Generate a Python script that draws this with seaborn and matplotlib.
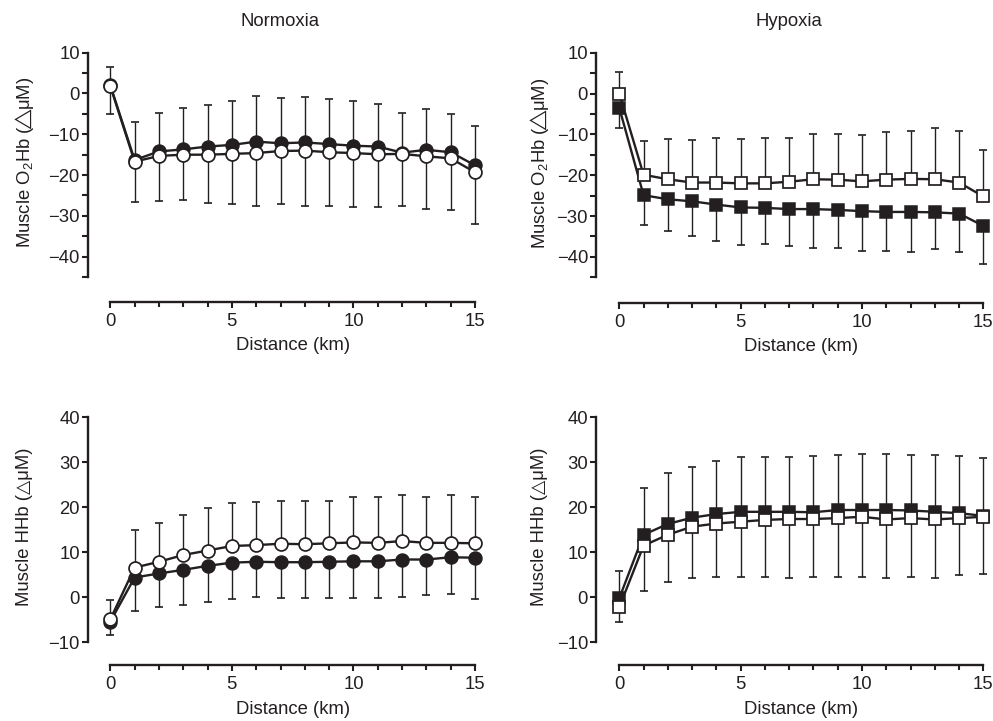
import numpy as np
import pandas as pd
import matplotlib
matplotlib.use("Agg")
import matplotlib.pyplot as plt
import seaborn as sns

# ---------------- data ----------------
distance = list(range(16))

# Normoxia, muscle O2Hb
n_o2_filled_mean = [2.0, -16.3, -14.2, -13.7, -13.0, -12.6, -11.8, -12.2, -12.0, -12.4, -12.8, -13.0, -14.5, -13.8, -14.4, -17.6]
n_o2_filled_sd = [4.5, 9.4, 9.3, 10.2, 10.2, 10.8, 11.2, 11.2, 11.2, 11.0, 11.0, 10.5, 9.7, 10.0, 9.4, 9.6]
n_o2_open_mean = [1.8, -16.7, -15.3, -15.0, -15.0, -14.8, -14.6, -14.1, -14.0, -14.4, -14.6, -14.9, -14.8, -15.4, -15.9, -19.3]
n_o2_open_sd = [6.8, 10.0, 11.0, 11.2, 11.8, 12.4, 12.9, 13.1, 13.5, 13.1, 13.2, 12.9, 12.8, 12.8, 12.6, 12.6]

# Hypoxia, muscle O2Hb
h_o2_filled_mean = [-3.5, -24.9, -25.9, -26.4, -27.2, -27.9, -28.0, -28.3, -28.3, -28.5, -28.8, -29.0, -29.0, -29.1, -29.4, -32.4]
h_o2_filled_sd = [4.9, 7.2, 7.7, 8.6, 8.8, 9.2, 8.9, 9.1, 9.5, 9.3, 9.7, 9.6, 9.9, 8.9, 9.3, 9.3]
h_o2_open_mean = [0.0, -19.9, -21.0, -21.8, -21.8, -22.0, -22.0, -21.6, -21.0, -21.1, -21.5, -21.1, -20.9, -21.0, -21.8, -25.2]
h_o2_open_sd = [5.2, 8.2, 9.9, 10.4, 11.0, 10.8, 11.2, 10.7, 11.2, 11.1, 11.3, 11.7, 11.7, 12.6, 12.5, 11.4]

# Normoxia, muscle HHb
n_hh_filled_mean = [-5.4, 4.4, 5.3, 6.1, 7.0, 7.7, 7.9, 7.8, 7.8, 7.9, 8.0, 8.0, 8.4, 8.4, 8.9, 8.8]
n_hh_filled_sd = [3.0, 7.4, 7.4, 7.8, 8.0, 8.0, 7.75, 8.0, 7.95, 8.0, 8.1, 8.1, 8.25, 7.9, 8.2, 9.1]
n_hh_open_mean = [-4.9, 6.6, 7.9, 9.4, 10.4, 11.4, 11.6, 11.9, 11.8, 12.0, 12.2, 12.1, 12.5, 12.1, 12.1, 12.0]
n_hh_open_sd = [4.2, 8.3, 8.6, 8.8, 9.4, 9.5, 9.5, 9.4, 9.5, 9.5, 10.0, 10.1, 10.3, 10.3, 10.6, 10.3]

# Hypoxia, muscle HHb
h_hh_filled_mean = [-0.2, 13.9, 16.3, 17.7, 18.5, 19.0, 19.0, 19.0, 18.9, 19.4, 19.4, 19.4, 19.3, 19.0, 18.7, 18.1]
h_hh_filled_sd = [6.1, 10.5, 11.3, 11.2, 11.9, 12.2, 12.1, 12.2, 12.6, 12.3, 12.5, 12.5, 12.4, 12.6, 12.7, 12.9]
h_hh_open_mean = [-2.2, 11.5, 13.9, 15.7, 16.4, 16.8, 17.2, 17.4, 17.4, 17.6, 17.9, 17.3, 17.6, 17.3, 17.6, 17.9]
h_hh_open_sd = [3.3, 10.0, 10.6, 11.3, 11.8, 12.2, 12.6, 13.0, 12.8, 13.0, 13.3, 13.0, 13.1, 12.9, 12.6, 12.7]

titles = ["Normoxia", "Hypoxia"]
ylabel_o2 = "Muscle O$_2$Hb ($\\!\\!\\triangle\\!\\!$\u03bcM)"
ylabel_hh = "Muscle HHb (\u25b3\u03bcM)"
xlabel = "Distance (km)"

# ---------------- style ----------------
sns.set_theme(style="ticks")
INK = "#231f20"
plt.rcParams["font.family"] = ["Liberation Sans", "DejaVu Sans"]
plt.rcParams["mathtext.fontset"] = "custom"
plt.rcParams["mathtext.rm"] = "Liberation Sans"
plt.rcParams["mathtext.it"] = "Liberation Sans:italic"
plt.rcParams["mathtext.fallback"] = "stix"
plt.rcParams["text.color"] = INK
plt.rcParams["axes.labelcolor"] = INK
plt.rcParams["xtick.color"] = INK
plt.rcParams["ytick.color"] = INK
FS = 13.3

W, H = 993, 721
fig = plt.figure(figsize=(W / 100, H / 100), dpi=100)
fig.patch.set_facecolor("white")


def make_axes(left_px, right_px, top_px, bottom_px):
    return fig.add_axes([left_px / W, 1 - bottom_px / H,
                         (right_px - left_px) / W, (bottom_px - top_px) / H])


panels = [
    dict(px=(87.7, 482.3, 48.6, 302.0), xlim=(-0.93, 15.3), ylim=(-51.1, 11),
         ybounds=(-45, 10), ymajor=np.arange(-40, 11, 10), yminor=np.arange(-45, 10, 10),
         filled=(n_o2_filled_mean, n_o2_filled_sd), open=(n_o2_open_mean, n_o2_open_sd),
         filled_up=True, marker="o", ms=9.3, ylabel=ylabel_o2, title=titles[0],
         ylc=(-0.160, 0.552), xlc=-0.170, tx=0.487),
    dict(px=(596.0, 990.6, 48.6, 303.0), xlim=(-0.96, 15.3), ylim=(-51.3, 11),
         ybounds=(-45, 10), ymajor=np.arange(-40, 11, 10), yminor=np.arange(-45, 10, 10),
         filled=(h_o2_filled_mean, h_o2_filled_sd), open=(h_o2_open_mean, h_o2_open_sd),
         filled_up=False, marker="s", ms=8.5, ylabel=ylabel_o2, title=titles[1],
         ylc=(-0.143, 0.549), xlc=-0.172, tx=0.489),
    dict(px=(87.7, 482.3, 412.8, 665.0), xlim=(-0.93, 15.3), ylim=(-15.04, 41),
         ybounds=(-10, 40), ymajor=np.arange(-10, 41, 10), yminor=[],
         filled=(n_hh_filled_mean, n_hh_filled_sd), open=(n_hh_open_mean, n_hh_open_sd),
         filled_up=False, marker="o", ms=9.3, ylabel=ylabel_hh, title=None,
         ylc=(-0.160, 0.548), xlc=-0.178, tx=None),
    dict(px=(596.0, 990.6, 412.8, 665.0), xlim=(-0.96, 15.3), ylim=(-15.04, 41),
         ybounds=(-10, 40), ymajor=np.arange(-10, 41, 10), yminor=[],
         filled=(h_hh_filled_mean, h_hh_filled_sd), open=(h_hh_open_mean, h_hh_open_sd),
         filled_up=True, marker="s", ms=8.5, ylabel=ylabel_hh, title=None,
         ylc=(-0.143, 0.548), xlc=-0.178, tx=None),
]

x = np.array(distance)
for p in panels:
    ax = make_axes(*p["px"])
    ax.set_facecolor("white")
    fm, fsd = np.array(p["filled"][0]), np.array(p["filled"][1])
    om, osd = np.array(p["open"][0]), np.array(p["open"][1])
    z = np.zeros_like(fsd)
    if p["filled_up"]:
        f_err, o_err = [z, fsd], [osd, z]
    else:
        f_err, o_err = [fsd, z], [z, osd]
    eb_kw = dict(fmt="none", ecolor=INK, elinewidth=1.0, capsize=2.6, capthick=1.2,
                 zorder=1, clip_on=False)
    ax.errorbar(x, fm, yerr=f_err, **eb_kw)
    ax.errorbar(x, om, yerr=o_err, **eb_kw)

    df_f = pd.DataFrame({"distance": x, "value": fm})
    df_o = pd.DataFrame({"distance": x, "value": om})
    sns.lineplot(data=df_f, x="distance", y="value", ax=ax, color=INK,
                 linewidth=1.7, marker=p["marker"], markersize=p["ms"],
                 markerfacecolor=INK, markeredgecolor=INK, markeredgewidth=1.1,
                 zorder=3, clip_on=False)
    sns.lineplot(data=df_o, x="distance", y="value", ax=ax, color=INK,
                 linewidth=1.7, marker=p["marker"], markersize=p["ms"],
                 markerfacecolor="white", markeredgecolor=INK, markeredgewidth=1.25,
                 zorder=4, clip_on=False)

    ax.set_xlim(*p["xlim"])
    ax.set_ylim(*p["ylim"])
    sns.despine(ax=ax)
    for s in ("left", "bottom"):
        ax.spines[s].set_linewidth(1.7)
        ax.spines[s].set_color(INK)
    ax.spines["left"].set_bounds(*p["ybounds"])
    ax.spines["bottom"].set_bounds(0, 15)

    ax.set_xticks([0, 5, 10, 15])
    ax.set_xticks(np.arange(0, 16, 1), minor=True)
    ax.set_yticks(p["ymajor"])
    ax.set_yticks(p["yminor"], minor=True)
    ax.tick_params(axis="both", which="both", width=1.5, length=4.2, labelsize=FS)
    ax.tick_params(axis="y", which="both", pad=1.5)
    ax.tick_params(axis="x", which="both", pad=3.5)
    ax.tick_params(axis="x", which="minor", length=3.5)

    ax.set_xlabel(xlabel, fontsize=FS)
    ax.set_ylabel(p["ylabel"], fontsize=FS)
    ax.xaxis.set_label_coords((7.5 - p["xlim"][0]) / (p["xlim"][1] - p["xlim"][0]), p["xlc"])
    ax.xaxis.label.set_va("center")
    ax.yaxis.set_label_coords(*p["ylc"])
    ax.yaxis.label.set_va("center")
    if p["title"]:
        ax.text(p["tx"], 1.106, p["title"], transform=ax.transAxes, ha="center",
                va="center", fontsize=FS, color=INK)

fig.savefig("out.png", dpi=100, facecolor="white")
